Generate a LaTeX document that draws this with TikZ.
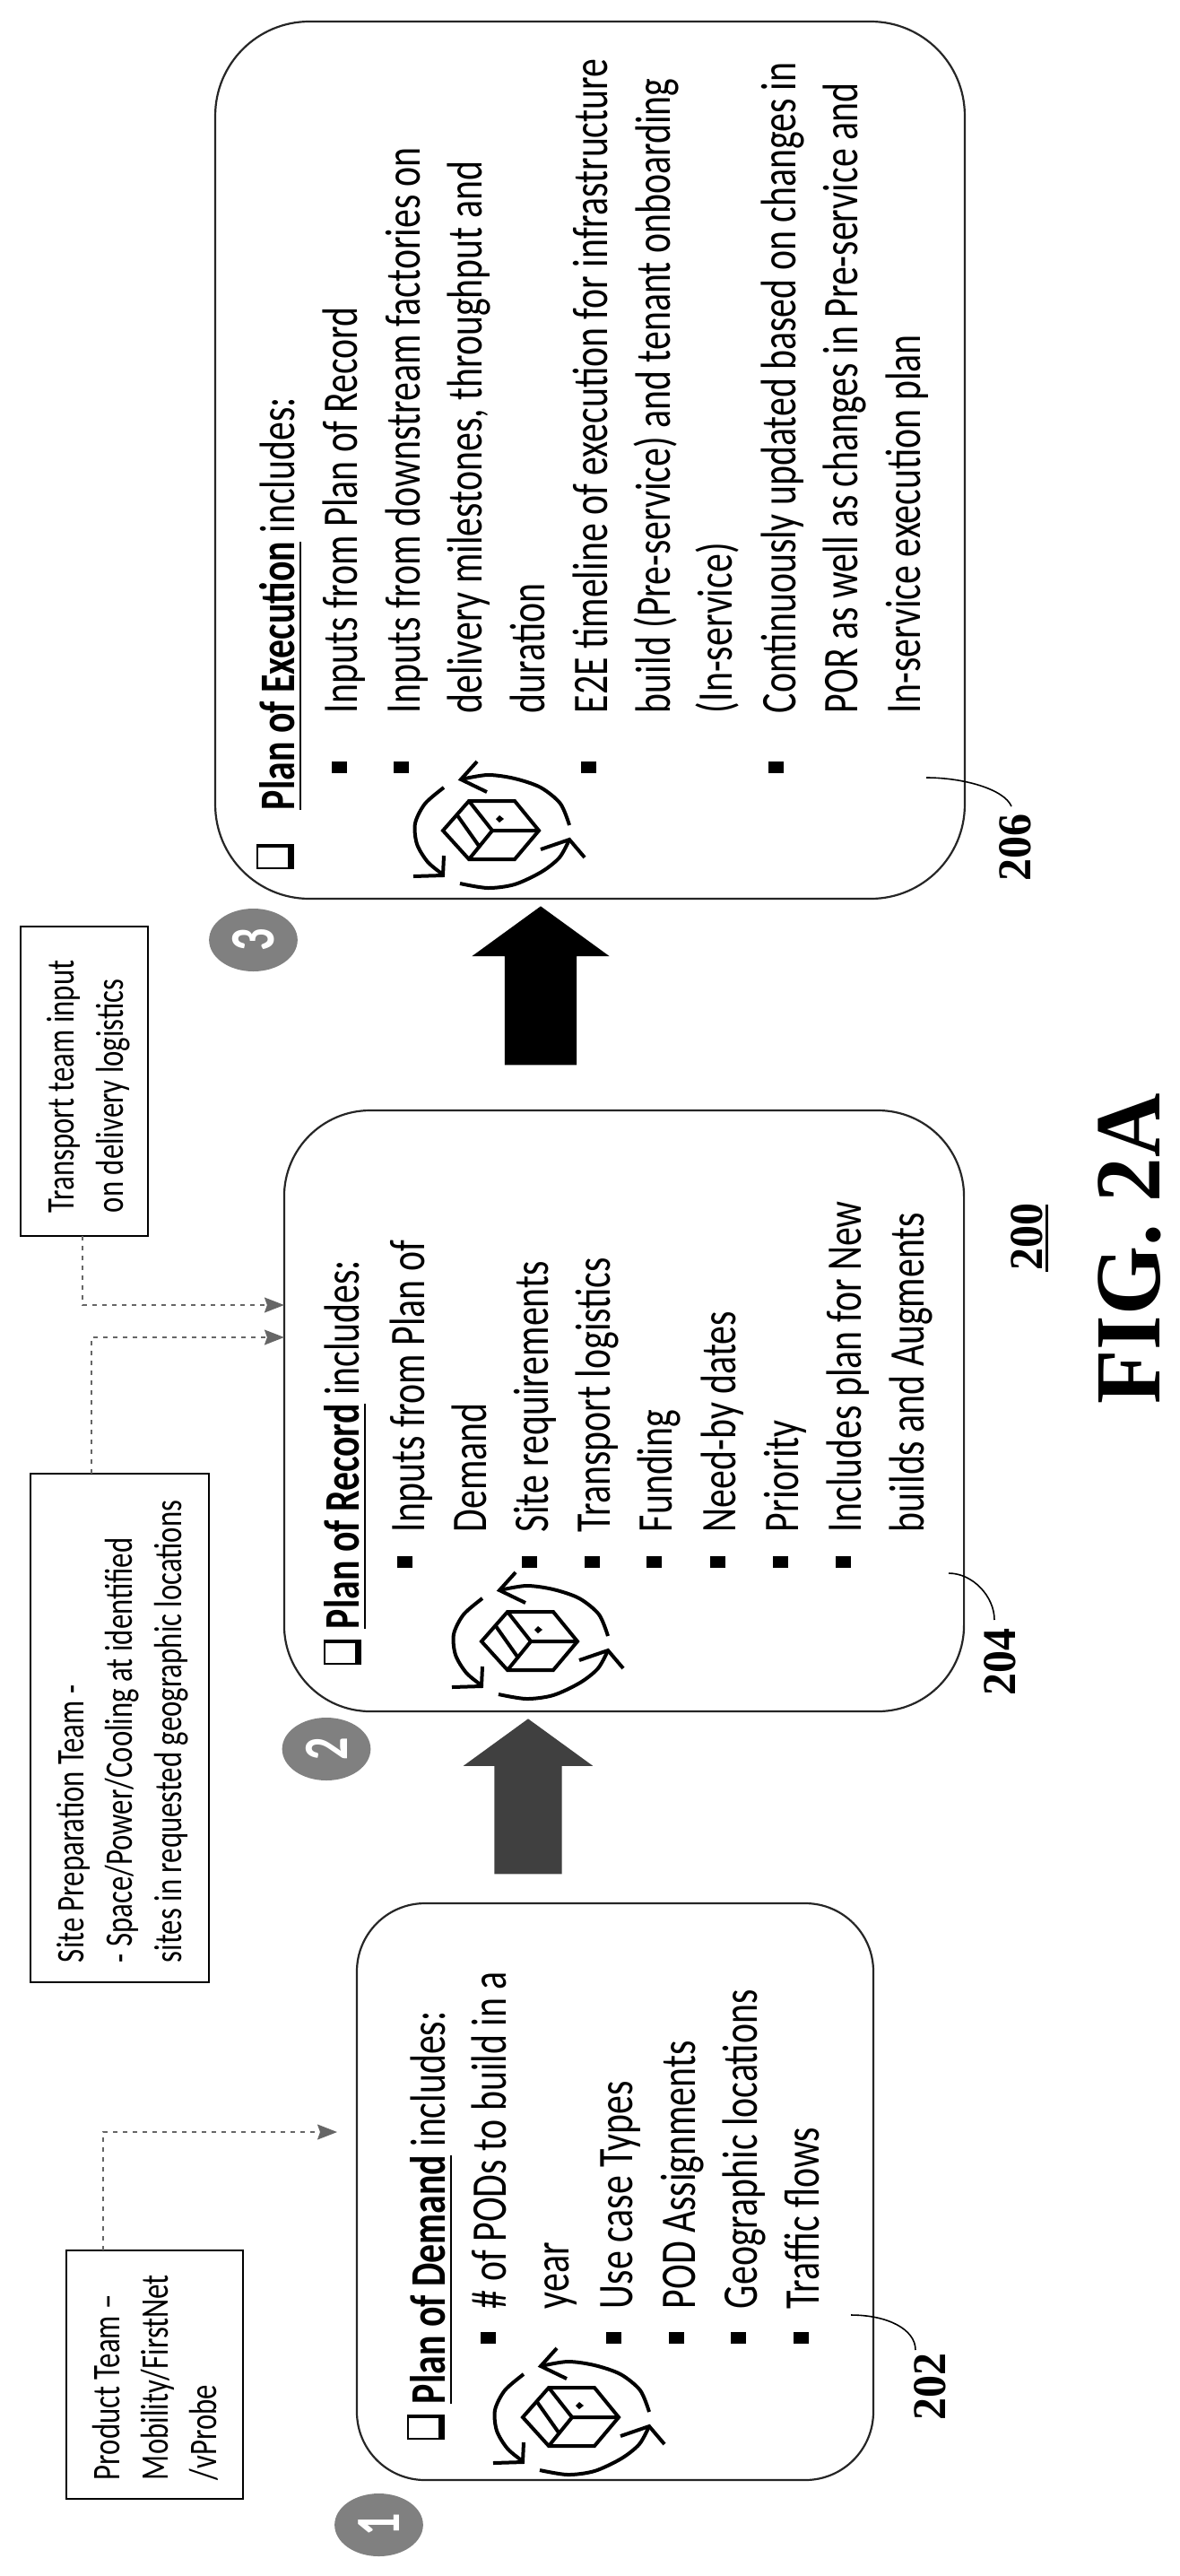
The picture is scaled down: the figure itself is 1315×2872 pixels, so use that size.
\documentclass[tikz,border=0pt]{standalone}
\usepackage{fontspec}
\setmainfont{Carlito}
\newfontfamily\labfont{Liberation Serif}[Scale=1]
\usetikzlibrary{shapes.arrows,arrows.meta}
\newcommand\myul[1]{\setbox0=\hbox{#1}\rlap{\rule[-6pt]{\wd0}{1.4pt}}\box0\relax}
\newcommand\bigtxt{\fontsize{41.8}{41.8}\selectfont}
\newcommand\smalltxt{\fontsize{32.8}{32.8}\selectfont}
\tikzset{
  anam/.style={xscale=1.33,rotate=90,inner sep=0pt,outer sep=0pt},
  txt/.style={anam,anchor=base west,font=\bigtxt},
  stxt/.style={anam,anchor=base west,font=\smalltxt},
  lab/.style={xscale=1.05,rotate=90,inner sep=0pt,outer sep=0pt,anchor=base west,font=\labfont\bfseries\fontsize{50}{50}\selectfont},
  bul/.style={fill=black,inner sep=0pt,minimum width=17pt,minimum height=13pt},
  planbox/.style={draw=black!85,line width=2.2pt,inner sep=0pt,outer sep=0pt},
  sidebox/.style={draw=black,line width=2pt,inner sep=0pt,outer sep=0pt},
  numdot/.style={xscale=1.41,rotate=90,inner sep=0pt,outer sep=0pt,circle,fill=black!50,text=white,minimum size=70pt,font=\bfseries\fontsize{50}{50}\selectfont},
  blockarrow/.style={single arrow,inner xsep=0pt,outer sep=0pt,rotate=90},
  dashconn/.style={draw=black!60,line width=1.2pt,dash pattern=on 5pt off 6pt,-{Stealth[length=22pt,width=17pt,inset=3pt,fill=black!60]}},
  callout/.style={line width=1.6pt},
  icon/.style={line width=4pt},
  chkbox/.pic={
    \draw[line width=2.5pt] (-41,1) rectangle (-1,27);
    \fill (-7,0) rectangle (0,28);
    \fill (-42,0) rectangle (0,4);
  },
  cubeicon/.pic={
    \draw[icon] (-55,0)--(-26,-33)--(25,-33)--(52,0)--(25,32)--(-26,32)--cycle;
    \draw[icon] (52,0)--(0,0)--(-26,-33) (0,0)--(-26,32) (-39,-17)--(-15,17);
    \fill (8,-17)--(13,-13)--(8,-9)--(4,-13)--cycle;
    \draw[icon] plot[smooth] coordinates {(86,-6)(76,-30)(54,-48)(25,-58)(-5,-62)(-35,-57)};
    \draw[icon] (-17,-77)--(-35,-57)--(-6,-43);
    \draw[icon] plot[smooth] coordinates {(-54,-48)(-75,-30)(-86,-8)(-84,15)(-72,35)(-55,49)};
    \draw[icon] (-88,51)--(-55,50)--(-54,28);
    \draw[icon] plot[smooth] coordinates {(-36,59)(-5,64)(25,60)(55,46)(75,30)(86,10)};
    \draw[icon] (54,21)--(86,10)--(103,30);
  }
}
\begin{document}
\begin{tikzpicture}[x=1pt,y=-1pt]
\useasboundingbox (0,0) rectangle (1315,2872);

% plan boxes
\node[planbox,xscale=1.25,rounded corners=76pt,minimum width=460.8pt,minimum height=643pt] (demand) at (686,2443.5) {};
\node[planbox,xscale=1.27,rounded corners=96pt,minimum width=597pt,minimum height=670pt] (record) at (696,1573) {};
\node[planbox,xscale=1.3,rounded corners=105pt,minimum width=643pt,minimum height=978pt] (execution) at (658,513) {};

% side boxes
\node[sidebox,minimum width=197pt,minimum height=277pt] (product) at (172.5,2647.5) {};
\node[sidebox,minimum width=199pt,minimum height=567pt] (site) at (133,1926.5) {};
\node[sidebox,minimum width=142pt,minimum height=345pt] (transport) at (94,1205.5) {};

% numbered dots
\node[numdot] (n1) at (422.5,2815) {1};
\node[numdot] (n2) at (364,1950) {2};
\node[numdot] (n3) at (282.5,1048) {3};

% block arrows
\node[blockarrow,fill=black!75,inner ysep=37.5pt,minimum height=173pt,minimum width=144pt,single arrow head extend=34.5pt,single arrow tip angle=108] (a12) at (589,2016.5) {};
\node[blockarrow,fill=black,inner ysep=40pt,minimum height=177pt,minimum width=153pt,single arrow head extend=36.5pt,single arrow tip angle=108] (a23) at (603,1113.5) {};

% dashed connectors
\coordinate (pk) at (115,2377);
\coordinate (pe) at (376,2377);
\coordinate (sk) at (102,1491);
\coordinate (tk) at (92,1455);
\draw[dashconn] (product.north -| pk) -- (pk) -- (pe);
\draw[dashconn] (site.north -| sk) -- (sk) -- (record.west |- sk);
\draw[dashconn] (transport.south -| tk) -- (tk) -- (record.west |- tk);

% side box text
\node[stxt] (p1) at (133,2765) {Product Team --};
\node[stxt] (p2) at (187.5,2765) {Mobility/FirstNet};
\node[stxt] (p3) at (241,2765) {/vProbe};
\node[stxt] (s1) at (93,2188) {Site Preparation Team -};
\node[stxt] (s2) at (147,2188) {- Space/Power/Cooling at identified};
\node[stxt] (s3) at (202,2188) {sites in requested geographic locations};
\node[stxt] (t1) at (82,1352) {Transport team input};
\node[stxt] (t2) at (137,1352) {on delivery logistics};

% plan of demand
\pic (dc) at (496,2692) {chkbox};
\node[txt] (d0) at (496,2680) {\myul{\textbf{Plan of Demand}} includes:};
\node[txt] (d1) at (564,2574) {\# of PODs to build in a};
\node[txt] (d2) at (634,2574) {year};
\node[txt] (d3) at (705,2574) {Use case Types};
\node[txt] (d4) at (775,2574) {POD Assignments};
\node[txt] (d5) at (844,2574) {Geographic locations};
\node[txt] (d6) at (913,2574) {Traffic flows};
\node[bul] (db1) at (544,2606) {};
\node[bul] (db3) at (684,2606) {};
\node[bul] (db4) at (754,2606) {};
\node[bul] (db5) at (823,2606) {};
\node[bul] (db6) at (893,2606) {};
\pic (di) at (638,2695) {cubeicon};

% plan of record
\pic (rc) at (403,1828) {chkbox};
\node[txt] (r0) at (400,1816) {\myul{\textbf{Plan of Record}} includes:};
\node[txt] (r1) at (473,1708) {Inputs from Plan of};
\node[txt] (r2) at (542,1708) {Demand};
\node[txt] (r3) at (611,1708) {Site requirements};
\node[txt] (r4) at (680,1708) {Transport logistics};
\node[txt] (r5) at (749,1708) {Funding};
\node[txt] (r6) at (820,1708) {Need-by dates};
\node[txt] (r7) at (890,1708) {Priority};
\node[txt] (r8) at (960,1708) {Includes plan for New};
\node[txt] (r9) at (1030,1708) {builds and Augments};
\node[bul] (rb1) at (451,1741) {};
\node[bul] (rb3) at (590,1741) {};
\node[bul] (rb4) at (660,1741) {};
\node[bul] (rb5) at (729,1741) {};
\node[bul] (rb6) at (800,1741) {};
\node[bul] (rb7) at (870,1741) {};
\node[bul] (rb8) at (940,1741) {};
\pic (ri) at (592,1830) {cubeicon};

% plan of execution
\pic (ec) at (328,941) {chkbox};
\node[txt] (e0) at (328,903) {\myul{\textbf{Plan of Execution}} includes:};
\node[txt] (e1) at (398,795) {Inputs from Plan of Record};
\node[txt] (e2) at (468,795) {Inputs from downstream factories on};
\node[txt] (e3) at (537.5,795) {delivery milestones, throughput and};
\node[txt] (e4) at (607,795) {duration};
\node[txt] (e5) at (677,795) {E2E timeline of execution for infrastructure};
\node[txt] (e6) at (747,795) {build (Pre-service) and tenant onboarding};
\node[txt] (e7) at (816,795) {(In-service)};
\node[txt] (e8) at (887,795) {Continuously updated based on changes in};
\node[txt] (e9) at (956.5,795) {POR as well as changes in Pre-service and};
\node[txt] (e10) at (1026,795) {In-service execution plan};
\node[bul] (eb1) at (378,855) {};
\node[bul] (eb2) at (447,855) {};
\node[bul] (eb5) at (656,855) {};
\node[bul] (eb8) at (865,855) {};
\pic (ei) at (549,926) {cubeicon};

% reference labels and callouts
\node[lab] (l202) at (1054,2698) {202};
\node[lab] (l204) at (1132,1890) {204};
\node[lab] (l206) at (1149,982) {206};
\node[lab] (l200) at (1162,1416) {200};
\coordinate (u1) at (1167,1418);
\coordinate (u2) at (1167,1343);
\draw[line width=3pt] (u1) -- (u2);
\coordinate (c2a) at (949,2581);
\coordinate (c2b) at (1021,2620);
\coordinate (c4a) at (1058,1754);
\coordinate (c4b) at (1109,1806);
\coordinate (c6a) at (1033,867);
\coordinate (c6b) at (1128,899);
\draw[callout] (c2a) .. controls (990,2581) and (1021,2597) .. (c2b);
\draw[callout] (c4a) .. controls (1085,1754) and (1109,1780) .. (c4b);
\draw[callout] (c6a) .. controls (1075,867) and (1120,880) .. (c6b);
\node[anchor=base west,xscale=1.05,rotate=90,inner sep=0pt,font=\labfont\bfseries\fontsize{99}{99}\selectfont] (fig) at (1293,1566) {FIG. 2A};
\end{tikzpicture}
\end{document}
